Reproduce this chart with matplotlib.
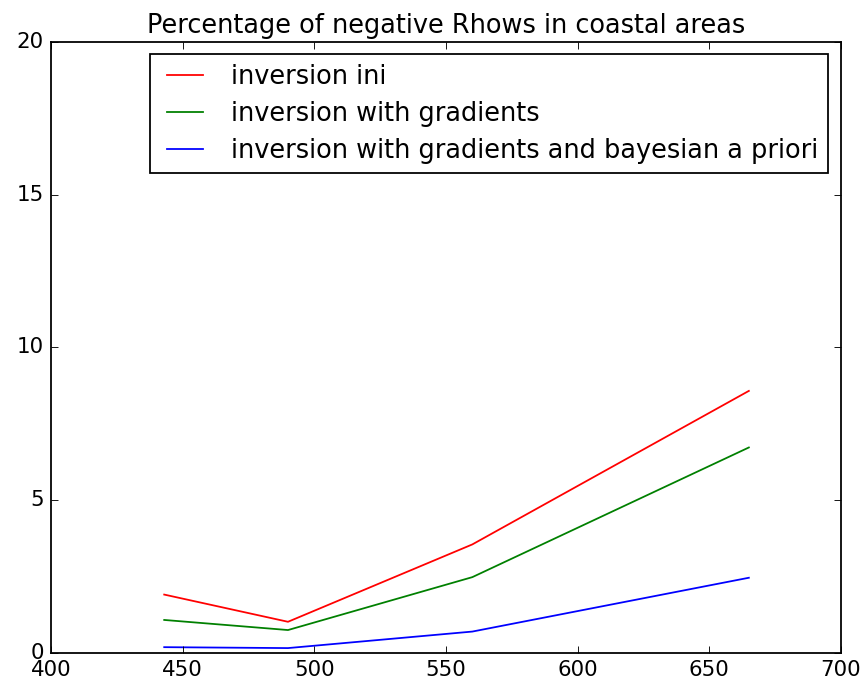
import matplotlib
matplotlib.use("Agg")
import matplotlib.pyplot as plt

plt.style.use("classic")

# wavelengths (nm) and percentage of negative Rhow per inversion setup
wavelengths = [443, 490, 560, 665]
pct_ini = [1.92, 1.03, 3.56, 8.58]
pct_gradients = [1.09, 0.76, 2.49, 6.73]
pct_bayesian = [0.20, 0.17, 0.71, 2.47]

dpi = 128
fig = plt.figure(figsize=(861 / dpi, 681 / dpi), dpi=dpi)
ax = fig.add_axes([0.0592, 0.0407, 0.9176, 0.8981])

ax.plot(wavelengths, pct_ini, "r", label="inversion ini")
ax.plot(wavelengths, pct_gradients, "g", label="inversion with gradients")
ax.plot(wavelengths, pct_bayesian, "b", label="inversion with gradients and bayesian a priori")

ax.set_xlim(400, 700)
ax.set_ylim(0, 20)
ax.set_title("Percentage of negative Rhows in coastal areas")
ax.legend(loc="upper right", labelspacing=0.42, borderpad=0.38)

fig.savefig("out.png", dpi=dpi)
